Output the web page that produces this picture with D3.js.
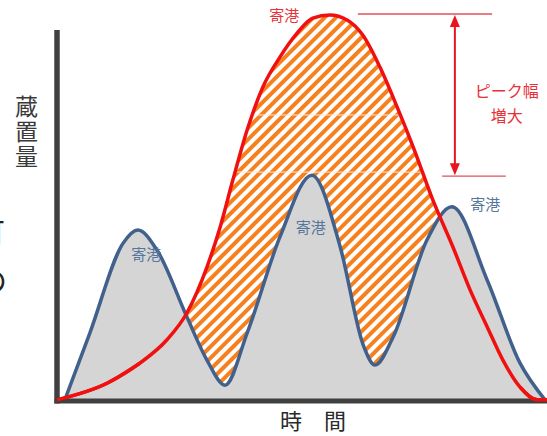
<!DOCTYPE html>
<html>
<head>
<meta charset="utf-8">
<script src="https://cdn.jsdelivr.net/npm/d3@7"></script>
<style>
  body { margin: 0; background: #fff; }
  svg { display: block; font-family: "Noto Sans CJK JP", "Noto Sans", sans-serif; }
</style>
</head>
<body>
<div id="chart"></div>
<script>
// time (0-100) and stock volume (0-100)
var blueTime = [1.6, 6.7, 13.5, 16.5, 20.4, 26.5, 30.6, 34.3, 38.8, 45.5, 52.0, 57.8, 62.5, 64.9, 68.6, 75.5, 80.6, 87.8, 94.5, 99.6];
var blueValue = [0.3, 17.6, 40.9, 44.3, 39.1, 21.8, 10.6, 4.1, 17.6, 42.5, 58.5, 39.9, 14.5, 9.3, 16.6, 41.7, 50.3, 31.3, 9.8, 0.3];

var redTime = [0, 10.2, 16.9, 22.4, 26.5, 30.6, 33.3, 35.9, 38.8, 42.0, 45.5, 49.0, 52.2, 55.7, 59.2, 62.4, 65.9, 69.4, 72.7, 76.7, 80.8, 84.3, 87.8, 91.0, 94.5, 98.0, 100];
var redValue = [0.3, 4.6, 9.8, 15.8, 22.8, 34.7, 45.1, 57.3, 70.2, 81.3, 89.1, 95.3, 99.2, 100, 98.7, 94.8, 86.5, 76.2, 65.8, 52.1, 39.9, 28.8, 19.2, 10.6, 3.6, 0.3, 0.3];

// port call labels: [time, value, colour key]
var callLabels = [
  [18.2, 36.5, "blue"],
  [51.8, 43.5, "blue"],
  [87.4, 49.5, "blue"],
  [46.4, 98.5, "red"]
];
var gridValues = [59.3, 74.1];

var width = 547, height = 436;

var x = d3.scaleLinear().domain([0, 100]).range([57, 547]);
var y = d3.scaleLinear().domain([0, 100]).range([401, 15]);

var blue = blueTime.map(function(t, i) { return [t, blueValue[i]]; });
var red = redTime.map(function(t, i) { return [t, redValue[i]]; });

var svg = d3.select("#chart").append("svg")
    .attr("width", width)
    .attr("height", height);

var defs = svg.append("defs");
defs.append("pattern")
    .attr("id", "hatch")
    .attr("patternUnits", "userSpaceOnUse")
    .attr("width", 8)
    .attr("height", 8)
    .attr("patternTransform", "rotate(45)")
  .append("rect")
    .attr("width", 4)
    .attr("height", 8)
    .attr("fill", "#f7801e");

var area = d3.area()
    .x(function(d) { return x(d[0]); })
    .y0(y(0))
    .y1(function(d) { return y(d[1]); })
    .curve(d3.curveMonotoneX);

var line = d3.line()
    .x(function(d) { return x(d[0]); })
    .y(function(d) { return y(d[1]); })
    .curve(d3.curveMonotoneX);

defs.append("clipPath").attr("id", "redclip")
  .append("path").attr("d", area(red));

// hatched area under the red curve
svg.append("path")
    .attr("d", area(red))
    .attr("fill", "url(#hatch)");

// faint grid lines showing through the hatch
svg.append("g")
    .attr("clip-path", "url(#redclip)")
  .selectAll("line")
  .data(gridValues)
  .enter().append("line")
    .attr("x1", x(0))
    .attr("x2", x(100))
    .attr("y1", function(d) { return y(d); })
    .attr("y2", function(d) { return y(d); })
    .attr("stroke", "#f3e9df")
    .attr("stroke-width", 1);

// grey area under the blue curve
svg.append("path")
    .attr("d", area(blue))
    .attr("fill", "#d5d5d5");

svg.append("path")
    .attr("d", line(blue))
    .attr("fill", "none")
    .attr("stroke", "#41618c")
    .attr("stroke-width", 3.5);

svg.append("path")
    .attr("d", line(red))
    .attr("fill", "none")
    .attr("stroke", "#f01010")
    .attr("stroke-width", 3.5);

// axes
svg.append("line")
    .attr("x1", x(0)).attr("x2", x(0))
    .attr("y1", 30).attr("y2", y(0) + 2.5)
    .attr("stroke", "#404040").attr("stroke-width", 5.5);
svg.append("line")
    .attr("x1", x(0) - 2.5).attr("x2", width)
    .attr("y1", y(0)).attr("y2", y(0))
    .attr("stroke", "#404040").attr("stroke-width", 5);

// red line ends again so they sit on top of the axis
svg.append("path")
    .attr("d", line(red.slice(0, 3)))
    .attr("fill", "none")
    .attr("stroke", "#f01010")
    .attr("stroke-width", 3.5);
svg.append("path")
    .attr("d", line(red.slice(-3)))
    .attr("fill", "none")
    .attr("stroke", "#f01010")
    .attr("stroke-width", 3.5);

// labels on the peaks
svg.selectAll(".call")
  .data(callLabels)
  .enter().append("text")
    .attr("class", "call")
    .attr("x", function(d) { return x(d[0]); })
    .attr("y", function(d) { return y(d[1]); })
    .attr("text-anchor", "middle")
    .attr("font-size", 15)
    .attr("fill", function(d) { return d[2] == "red" ? "#e8323a" : "#56759b"; })
    .text("寄港");

// peak width annotation
var peakRed = d3.max(redValue), peakBlue = d3.max(blueValue);
var ann = svg.append("g").attr("stroke", "#e0505a").attr("stroke-width", 1.3);
ann.append("line")
    .attr("x1", x(61.4)).attr("x2", x(88.8))
    .attr("y1", y(peakRed) - 1).attr("y2", y(peakRed) - 1);
ann.append("line")
    .attr("x1", x(78.6)).attr("x2", x(91.6))
    .attr("y1", y(peakBlue) + 1).attr("y2", y(peakBlue) + 1);

var ax = x(81.2), aTop = y(peakRed), aBot = y(peakBlue);
svg.append("line")
    .attr("x1", ax).attr("x2", ax)
    .attr("y1", aTop + 8).attr("y2", aBot - 8)
    .attr("stroke", "#e8141e").attr("stroke-width", 2);
svg.append("path")
    .attr("d", "M" + ax + "," + aTop + "l-5,12h10z")
    .attr("fill", "#e8141e");
svg.append("path")
    .attr("d", "M" + ax + "," + aBot + "l-5,-12h10z")
    .attr("fill", "#e8141e");

svg.append("text")
    .attr("x", x(91.8)).attr("y", 97)
    .attr("text-anchor", "middle")
    .attr("font-size", 16)
    .attr("fill", "#e8323a")
    .text("ピーク幅");
svg.append("text")
    .attr("x", x(91.8)).attr("y", 122)
    .attr("text-anchor", "middle")
    .attr("font-size", 16)
    .attr("fill", "#e8323a")
    .text("増大");

// axis titles
svg.append("text")
    .attr("x", 26.5)
    .attr("y", 132)
    .attr("text-anchor", "middle")
    .attr("font-size", 23)
    .attr("letter-spacing", 2)
    .attr("fill", "#3a3a3a")
    .style("writing-mode", "vertical-rl")
    .text("蔵置量");
svg.append("text")
    .attr("x", 313)
    .attr("y", 429)
    .attr("text-anchor", "middle")
    .attr("font-size", 22)
    .attr("fill", "#2a2a2a")
    .text("時　間");

// cut-off text at the left edge
svg.append("text")
    .attr("x", 5).attr("y", 244)
    .attr("text-anchor", "end")
    .attr("font-size", 30)
    .attr("fill", "#222")
    .text("可");
svg.append("text")
    .attr("x", 7).attr("y", 292)
    .attr("text-anchor", "end")
    .attr("font-size", 30)
    .attr("fill", "#222")
    .text("の");
</script>
</body>
</html>
